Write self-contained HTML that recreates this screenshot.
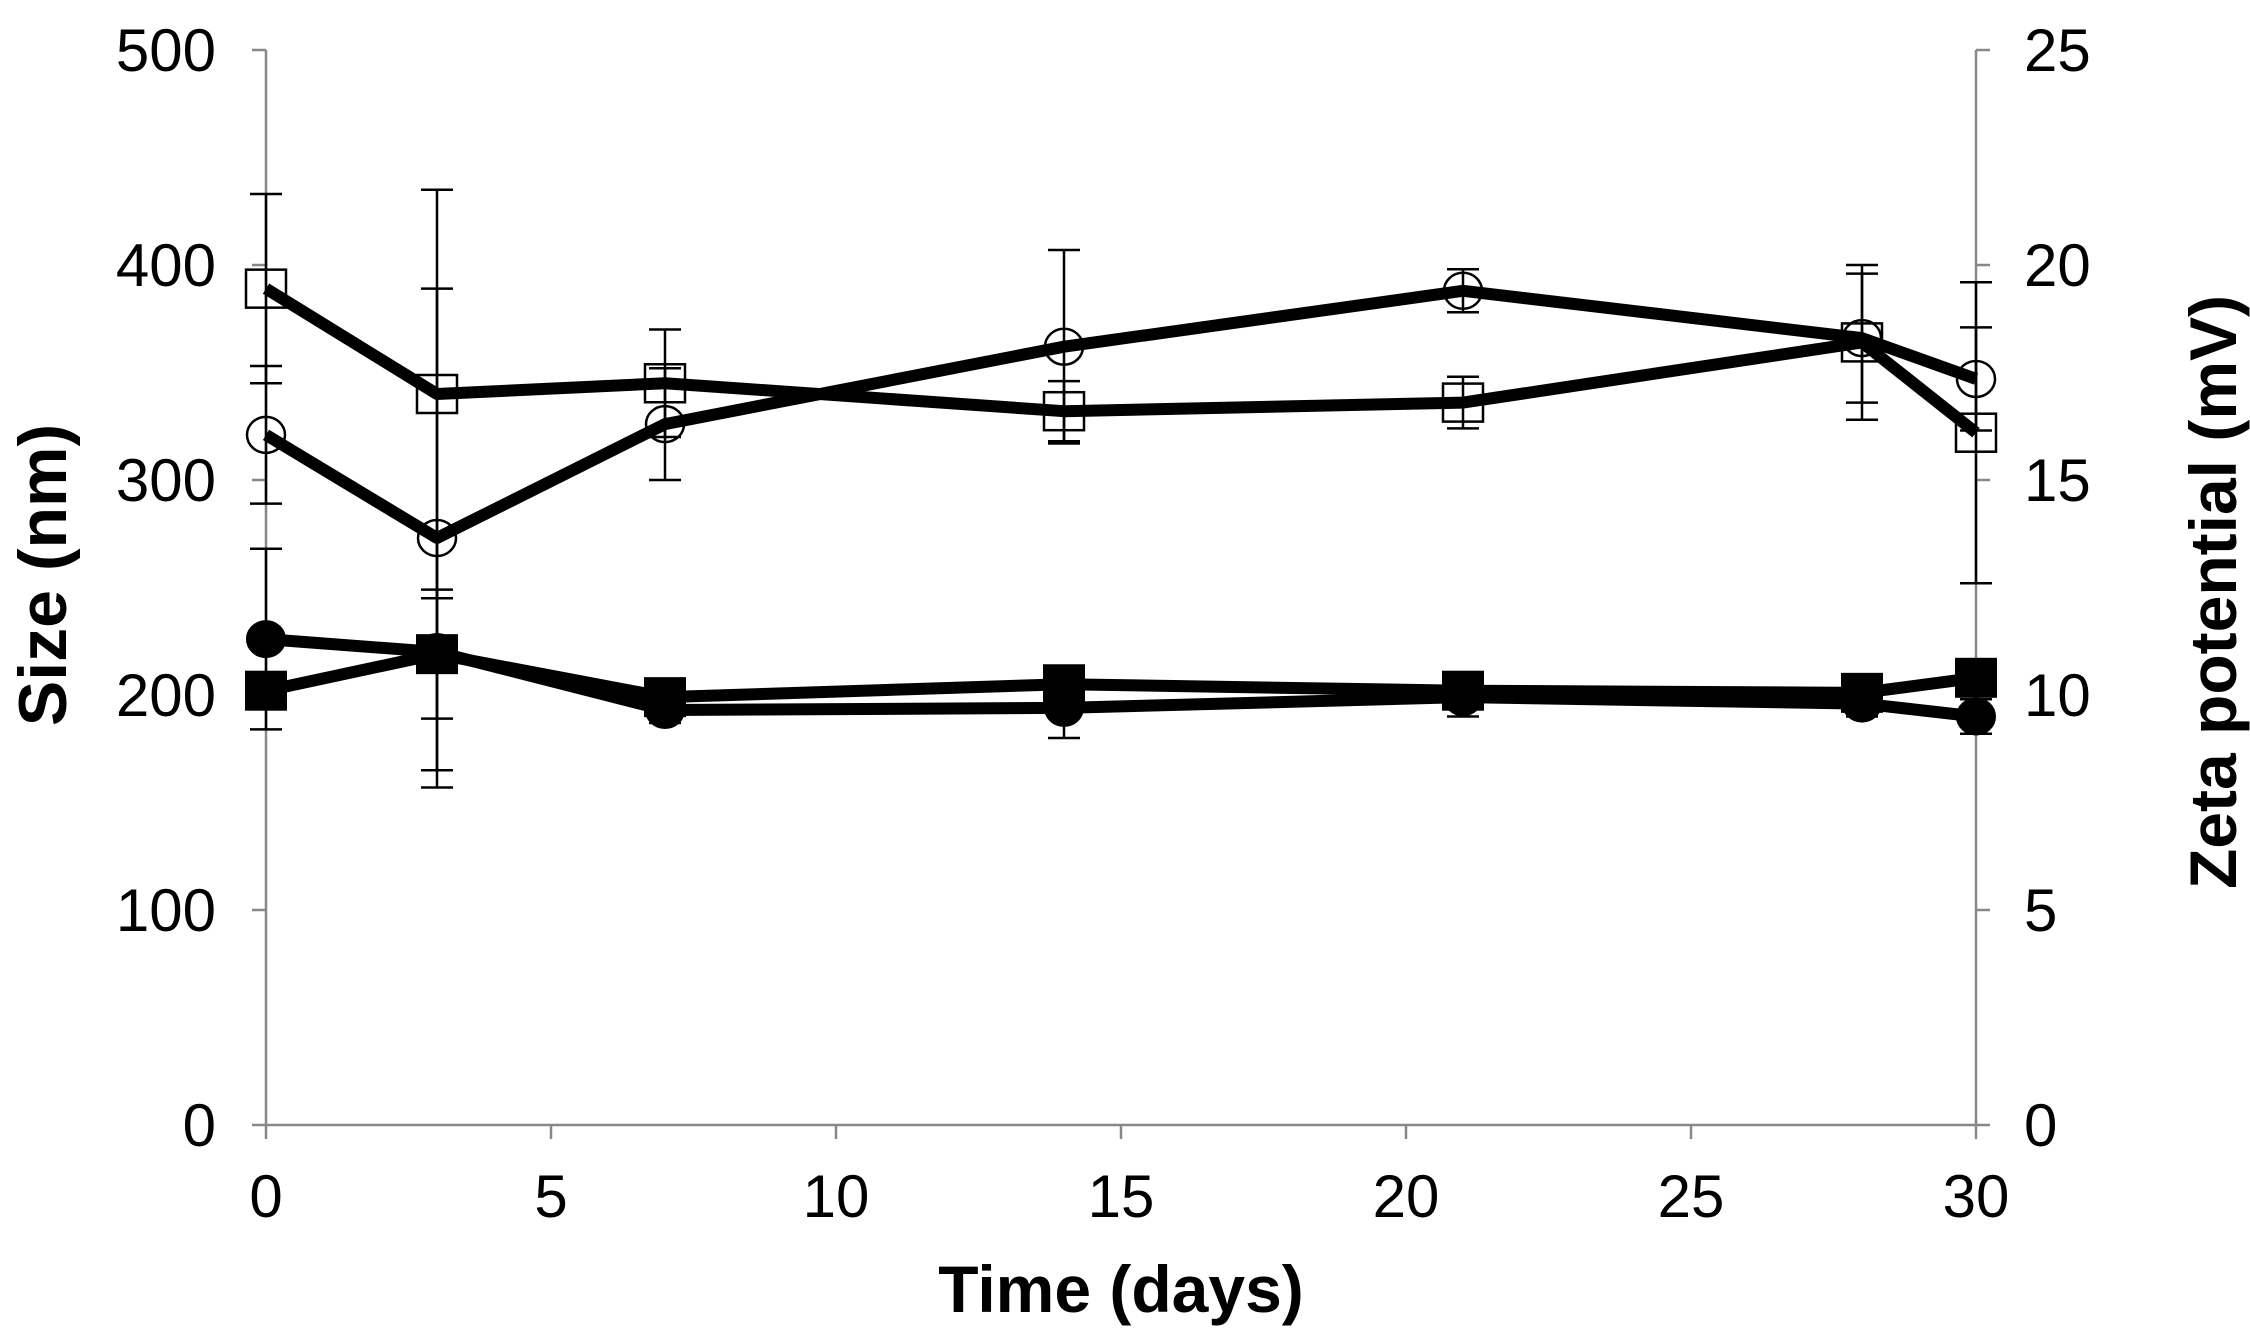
<!DOCTYPE html>
<html><head><meta charset="utf-8"><style>
html,body{margin:0;padding:0;background:#fff;}
svg{display:block;}
text{font-family:"Liberation Sans",sans-serif;fill:#000;}
</style></head><body>
<svg id="chart" width="2250" height="1337" viewBox="0 0 2250 1337" xmlns="http://www.w3.org/2000/svg"></svg>
<script>
const days = [0, 3, 7, 14, 21, 28, 30];
const zetaSquare = [19.45, 17.0, 17.25, 16.6, 16.8, 18.2, 16.1];
const zetaSquareErr = [2.2, 4.75, 1.25, 0.7, 0.6, 1.8, 3.5];
const zetaCircle = [16.05, 13.65, 16.3, 18.1, 19.4, 18.3, 17.35];
const zetaCircleErr = [1.6, 5.8, 1.3, 2.25, 0.5, 1.5, 1.2];
const sizeSquare = [202, 219, 199, 205, 202, 201, 208];
const sizeSquareErr = [7, 30, 5, 6, 5, 5, 6];
const sizeCircle = [226, 220, 193, 194, 199, 196, 190];
const sizeCircleErr = [42, 55, 6, 14, 9, 6, 8];
const xTicks = [0, 5, 10, 15, 20, 25, 30];
const yLeftTicks = [0, 100, 200, 300, 400, 500];
const yRightTicks = [0, 5, 10, 15, 20, 25];

const NS = "http://www.w3.org/2000/svg";
const svg = document.getElementById('chart');
const X0 = 266, X1 = 1976, Y0 = 1125, Y1 = 50;
const xs = d => X0 + (d / 30) * (X1 - X0);
const yL = v => Y0 - (v / 500) * (Y0 - Y1);
const yR = v => Y0 - (v / 25) * (Y0 - Y1);
function el(tag, attrs, parent) {
  const e = document.createElementNS(NS, tag);
  for (const k in attrs) e.setAttribute(k, attrs[k]);
  (parent || svg).appendChild(e);
  return e;
}
const axes = el('g', {});


let a = el('line', {x1: X0, y1: Y1, x2: X0, y2: Y0, stroke: '#888', 'stroke-width': 2.5}, axes);


a = el('line', {x1: X1, y1: Y1, x2: X1, y2: Y0, stroke: '#888', 'stroke-width': 2.5}, axes);


a = el('line', {x1: X0, y1: Y0, x2: X1, y2: Y0, stroke: '#888', 'stroke-width': 2.5}, axes);


yLeftTicks.forEach(v => {
  el('line', {x1: X0 - 14, y1: yL(v), x2: X0, y2: yL(v), stroke: '#888', 'stroke-width': 2.5}, axes);
  const t = el('text', {x: X0 - 50, y: yL(v) + 21, 'text-anchor': 'end', 'font-size': 60}, axes);
  t.textContent = v;
  
  
});
yRightTicks.forEach(v => {
  el('line', {x1: X1, y1: yR(v), x2: X1 + 14, y2: yR(v), stroke: '#888', 'stroke-width': 2.5}, axes);
  const t = el('text', {x: X1 + 48, y: yR(v) + 21, 'text-anchor': 'start', 'font-size': 60}, axes);
  t.textContent = v;
  
  
});
xTicks.forEach(v => {
  el('line', {x1: xs(v), y1: Y0, x2: xs(v), y2: Y0 + 14, stroke: '#888', 'stroke-width': 2.5}, axes);
  const t = el('text', {x: xs(v), y: 1217, 'text-anchor': 'middle', 'font-size': 60}, axes);
  t.textContent = v;
  
  
});
let tt = el('text', {x: 1121, y: 1312, 'text-anchor': 'middle', 'font-size': 66, 'font-weight': 'bold'});
tt.textContent = 'Time (days)';


tt = el('text', {x: 0, y: 0, 'text-anchor': 'middle', 'font-size': 68, 'font-weight': 'bold', transform: 'translate(66,575) rotate(-90)'});
tt.textContent = 'Size (nm)';


tt = el('text', {x: 0, y: 0, 'text-anchor': 'middle', 'font-size': 66, 'font-weight': 'bold', transform: 'translate(2236,592) rotate(-90)'});
tt.textContent = 'Zeta potential (mV)';



function series(name, vals, errs, yf, shape, filled) {
  const g = el('g', {});
  
  
  vals.forEach((v, i) => {
    const x = xs(days[i]), hi = yf(v + errs[i]), lo = yf(v - errs[i]);
    const eb = el('path', {d: `M${x},${hi}V${lo}M${x-16},${hi}H${x+16}M${x-16},${lo}H${x+16}`, stroke: '#000', 'stroke-width': 2.5, fill: 'none'}, g);
    
    
  });
  const pts = vals.map((v, i) => xs(days[i]) + ',' + yf(v)).join(' ');
  const ln = el('polyline', {points: pts, stroke: '#000', 'stroke-width': 12, fill: 'none', 'stroke-linejoin': 'round'}, g);
  
  
  vals.forEach((v, i) => {
    const x = xs(days[i]), y = yf(v);
    let m;
    const style = filled ? {fill: '#000', stroke: '#000', 'stroke-width': 2} : {fill: 'none', stroke: '#000', 'stroke-width': 2.5};
    if (shape === 'square') m = el('rect', Object.assign({x: x - 20, y: y - 19, width: 40, height: 38}, style), g);
    else m = el('ellipse', Object.assign({cx: x, cy: y, rx: 19, ry: 18}, style), g);
    
    
  });
}
series('zeta-square-series', zetaSquare, zetaSquareErr, yR, 'square', false);
series('zeta-circle-series', zetaCircle, zetaCircleErr, yR, 'circle', false);
series('size-circle-series', sizeCircle, sizeCircleErr, yL, 'circle', true);
series('size-square-series', sizeSquare, sizeSquareErr, yL, 'square', true);
</script>
</body></html>
